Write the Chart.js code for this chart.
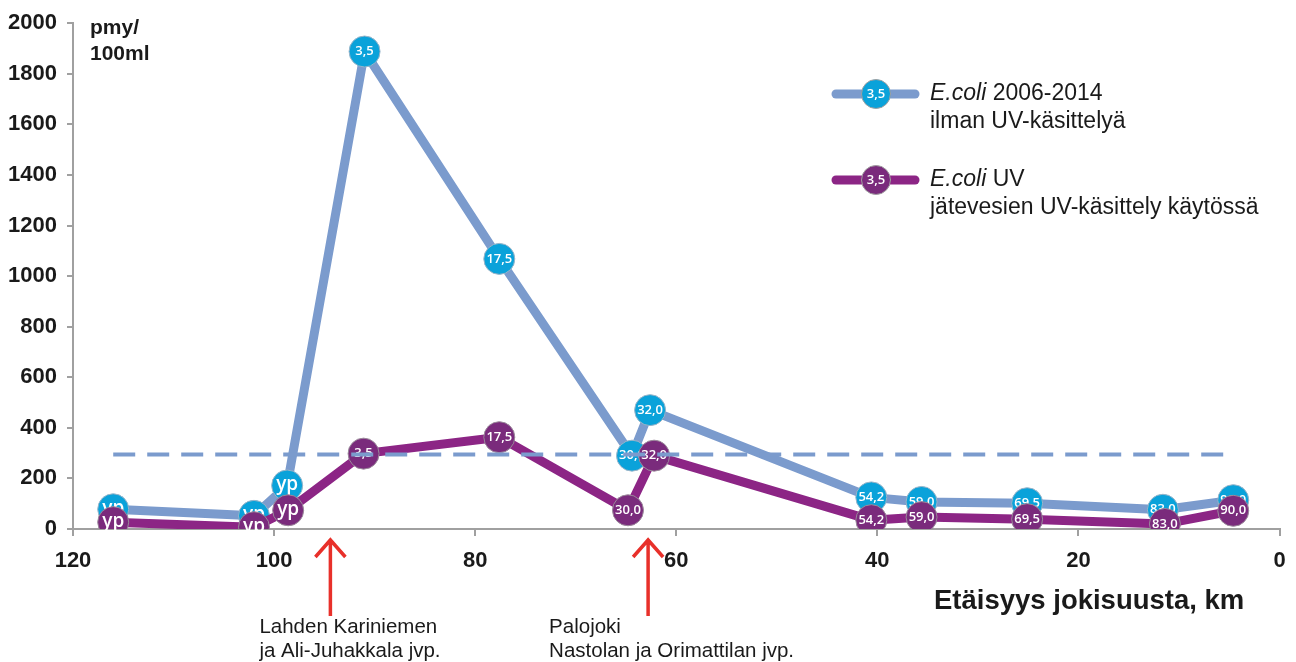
<!DOCTYPE html>
<html>
<head>
<meta charset="utf-8">
<script src="https://cdn.jsdelivr.net/npm/chart.js@4.4.1/dist/chart.umd.min.js"></script>
<style>
html,body{margin:0;padding:0;background:#fff;}
#wrap{width:1296px;height:662px;position:relative;}
</style>
</head>
<body>
<div id="wrap"><canvas id="c" width="1296" height="662"></canvas></div>
<script>
// Distance from river mouth (km)
const kmBlue   = [116, 102, 98.7, 91, 77.6, 64.4, 62.6, 40.6, 35.6, 25.1, 11.6, 4.6];
const kmPurple = [116, 102, 98.6, 91.1, 77.6, 64.8, 62.2, 40.6, 35.6, 25.1, 11.4, 4.6];
// E.coli pmy/100ml
const ecoliNoUV = [78, 52, 172, 1888, 1068, 290, 470, 125, 107, 102, 76, 114];
const ecoliUV   = [27, 7, 74, 298, 363, 74, 290, 35, 47, 39, 20, 72];
// Point labels
const pointLabels = ["yp","yp","yp","3,5","17,5","30,0","32,0","54,2","59,0","69,5","83,0","90,0"];
// Reference level
const refKm = [116, 4.6];
const refValue = [295, 295];
const yTicks = [0,200,400,600,800,1000,1200,1400,1600,1800,2000];
const xTicks = [0,20,40,60,80,100,120];
const legendLabels = [["E.coli"," 2006-2014","ilman UV-käsittelyä"],["E.coli"," UV","jätevesien UV-käsittely käytössä"]];
const arrowKm = [94.4, 62.8];
const arrowTexts = [["Lahden Kariniemen","ja Ali-Juhakkala jvp."],["Palojoki","Nastolan ja Orimattilan jvp."]];

const BLUE_LINE = '#7b9bcd', BLUE_DOT = '#0aa2da';
const PURP_LINE = '#8c2585', PURP_DOT = '#7a2b7c';

const toPts = (xs, ys) => xs.map((x,i)=>({x:x, y:ys[i]}));

const labelPlugin = {
  id:'labels',
  afterDatasetDraw(chart, args){
    const ds = chart.data.datasets[args.index];
    if(!ds.pointText) return;
    const ctx = chart.ctx;
    const meta = args.meta;
    ctx.save();
    ctx.fillStyle = '#fff';
    ctx.textAlign='center'; ctx.textBaseline='middle';
    meta.data.forEach((el,i)=>{
      const t = ds.pointText[i];
      ctx.font = t==='yp' ? '600 19px "Open Sans"' : '600 13px "Open Sans"';
      ctx.fillText(t, el.x, el.y + (t==='yp'?-1:0));
    });
    ctx.restore();
  }
};

const decoPlugin = {
  id:'deco',
  afterDraw(chart){
    const ctx = chart.ctx;
    const xs = chart.scales.x;
    ctx.save();
    // y-unit label
    ctx.fillStyle='#1a1a1a';
    ctx.font='bold 21px "Liberation Sans"';
    ctx.textAlign='left'; ctx.textBaseline='middle';
    ctx.fillText('pmy/', 90, 28);
    ctx.fillText('100ml', 90, 54);
    // axis title
    ctx.font='bold 27.5px "Liberation Sans"';
    ctx.fillText('Etäisyys jokisuusta, km', 934, 601);
    // arrows
    ctx.strokeStyle='#e8302a'; ctx.lineWidth=3.5; ctx.lineCap='butt';
    arrowKm.forEach((k,i)=>{
      const x = xs.getPixelForValue(k);
      ctx.beginPath();
      ctx.moveTo(x, 616); ctx.lineTo(x, 540);
      ctx.moveTo(x-15, 557); ctx.lineTo(x, 540); ctx.lineTo(x+15, 557);
      ctx.stroke();
      ctx.font='20.5px "Liberation Sans"';
      ctx.fillStyle='#1a1a1a';
      ctx.textAlign='left';
      const lx = i===0 ? x-71 : x-99;
      ctx.fillText(arrowTexts[i][0], lx, 627);
      ctx.fillText(arrowTexts[i][1], lx, 651);
    });
    // legend
    const items = [{y:94, line:BLUE_LINE, dot:BLUE_DOT},{y:180, line:PURP_LINE, dot:PURP_DOT}];
    items.forEach((it,i)=>{
      ctx.strokeStyle=it.line; ctx.lineWidth=9; ctx.lineCap='round';
      ctx.beginPath(); ctx.moveTo(836, it.y); ctx.lineTo(915, it.y); ctx.stroke();
      ctx.beginPath(); ctx.arc(876, it.y, 14.5, 0, Math.PI*2);
      ctx.fillStyle=it.dot; ctx.fill();
      ctx.lineWidth=1; ctx.strokeStyle='#a0a0a0'; ctx.stroke();
      ctx.fillStyle='#fff'; ctx.font='600 13px "Open Sans"'; ctx.textAlign='center';
      ctx.fillText('3,5', 876, it.y);
      ctx.textAlign='left'; ctx.fillStyle='#1a1a1a';
      ctx.font='italic 23px "Liberation Sans"';
      const L = legendLabels[i];
      ctx.fillText(L[0], 930, it.y);
      const w = ctx.measureText(L[0]).width;
      ctx.font='23px "Liberation Sans"';
      ctx.fillText(L[1], 930+w, it.y);
      ctx.fillText(L[2], 930, it.y+28);
    });
    ctx.restore();
  }
};

new Chart(document.getElementById('c'), {
  type:'scatter',
  data:{
    datasets:[
      {
        data: toPts(refKm, refValue),
        showLine:true, borderColor:BLUE_LINE, borderWidth:4, borderDash:[22,12],
        pointRadius:0, pointHoverRadius:0
      },
      {
        data: toPts(kmPurple, ecoliUV), pointText: pointLabels,
        showLine:true, borderColor:PURP_LINE, borderWidth:9, borderJoinStyle:'round',
        pointRadius:15.5, pointBackgroundColor:PURP_DOT, pointBorderColor:'#9a8a9a', pointBorderWidth:1,
        pointHoverRadius:15.5
      },
      {
        data: toPts(kmBlue, ecoliNoUV), pointText: pointLabels,
        showLine:true, borderColor:BLUE_LINE, borderWidth:9, borderJoinStyle:'round',
        pointRadius:15.5, pointBackgroundColor:BLUE_DOT, pointBorderColor:'#9ab4c8', pointBorderWidth:1,
        pointHoverRadius:15.5
      }
    ]
  },
  options:{
    responsive:false, animation:false,
    layout:{padding:{left:0, right:15, top:16, bottom:0}},
    plugins:{legend:{display:false}, tooltip:{enabled:false}},
    scales:{
      x:{
        type:'linear', min:0, max:120, reverse:true,
        afterBuildTicks(s){ s.ticks = xTicks.map(v=>({value:v})); },
        afterFit(s){ s.height = 133; },
        grid:{display:true, drawOnChartArea:false, drawTicks:true, tickLength:7, color:'#a0a0a0', lineWidth:2},
        border:{display:true, color:'#a0a0a0', width:2},
        ticks:{font:{family:'Liberation Sans', size:22, weight:'bold'}, color:'#1a1a1a', padding:12, maxRotation:0,
               callback:(v)=>String(v)}
      },
      y:{
        type:'linear', min:0, max:2000,
        afterBuildTicks(s){ s.ticks = yTicks.map(v=>({value:v})); },
        afterFit(s){ s.width = 73; },
        grid:{display:true, drawOnChartArea:false, drawTicks:true, tickLength:6, color:'#a0a0a0', lineWidth:2},
        border:{display:true, color:'#a0a0a0', width:2},
        ticks:{font:{family:'Liberation Sans', size:22, weight:'bold'}, color:'#1a1a1a', padding:10,
               callback:(v)=>String(v)}
      }
    }
  },
  plugins:[labelPlugin, decoPlugin]
});
</script>
</body>
</html>
